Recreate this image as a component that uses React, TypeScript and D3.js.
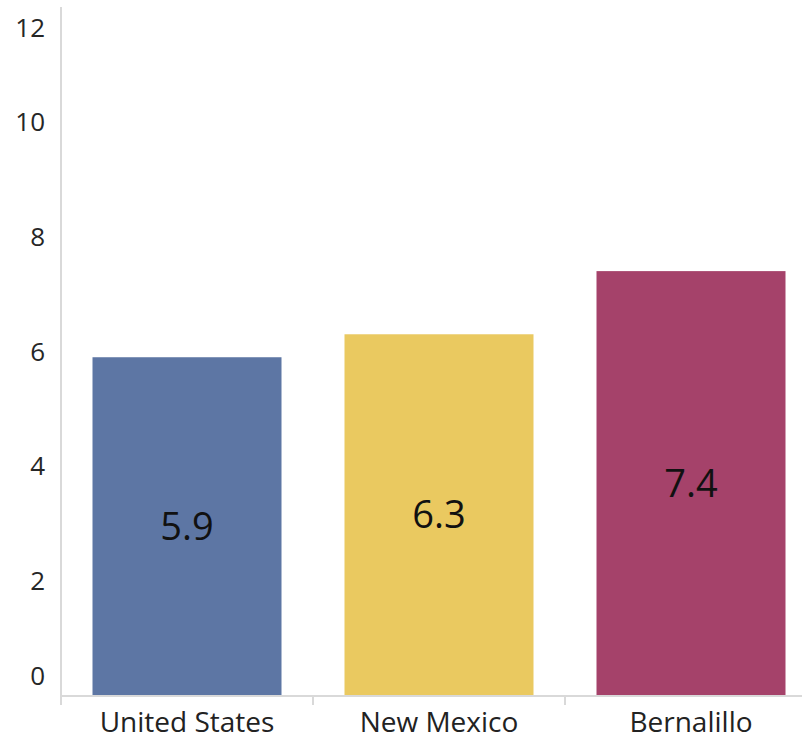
import React, { useEffect, useRef } from 'react';
import * as d3 from 'd3';

const categories: string[] = ['United States', 'New Mexico', 'Bernalillo'];
const values: number[] = [5.9, 6.3, 7.4];
const barColors: string[] = ['#5D76A4', '#EAC960', '#A5426A'];
const yTicks: number[] = [0, 2, 4, 6, 8, 10, 12];

const BarChart: React.FC = () => {
  const svgRef = useRef<SVGSVGElement | null>(null);

  useEffect(() => {
    const width = 802;
    const height = 741;
    const font = '"Open Sans", sans-serif';

    const svg = d3.select(svgRef.current);
    svg.selectAll('*').remove();
    svg.attr('width', width).attr('height', height);

    const xScale = d3.scaleBand<string>().domain(categories).range([61, 817]).paddingInner(0.25).paddingOuter(0.125);
    const yScale = d3.scaleLinear().domain([0, 12]).range([696, 7]);

    // bars
    svg
      .selectAll('rect.bar')
      .data(values)
      .enter()
      .append('rect')
      .attr('class', 'bar')
      .attr('x', (_, i) => xScale(categories[i])!)
      .attr('y', (d) => yScale(d))
      .attr('width', xScale.bandwidth())
      .attr('height', (d) => yScale(0) - yScale(d))
      .attr('fill', (_, i) => barColors[i]);

    // value labels in the middle of each bar
    svg
      .selectAll('text.value')
      .data(values)
      .enter()
      .append('text')
      .attr('class', 'value')
      .attr('x', (_, i) => xScale(categories[i])! + xScale.bandwidth() / 2)
      .attr('y', (d) => (yScale(d) + yScale(0)) / 2)
      .attr('dy', '0.35em')
      .attr('text-anchor', 'middle')
      .style('font-family', font)
      .style('font-size', '38px')
      .attr('fill', '#111')
      .text((d) => d.toFixed(1));

    // y axis line
    svg
      .append('line')
      .attr('x1', 61)
      .attr('x2', 61)
      .attr('y1', yScale(12))
      .attr('y2', yScale(0))
      .attr('stroke', '#D9D9D9')
      .attr('stroke-width', 2);

    // y tick labels (end labels pulled inward like the original)
    svg
      .selectAll('text.ytick')
      .data(yTicks)
      .enter()
      .append('text')
      .attr('class', 'ytick')
      .attr('x', 45)
      .attr('y', (d) => yScale(d) + (d === 0 ? -20 : d === 12 ? 21 : 0))
      .attr('dy', '0.35em')
      .attr('text-anchor', 'end')
      .style('font-family', font)
      .style('font-size', '26px')
      .attr('fill', '#262626')
      .text((d) => d);

    // x axis line
    svg
      .append('line')
      .attr('x1', 61)
      .attr('x2', width)
      .attr('y1', yScale(0))
      .attr('y2', yScale(0))
      .attr('stroke', '#D9D9D9')
      .attr('stroke-width', 2);

    // x ticks at band boundaries
    svg
      .selectAll('line.xtick')
      .data(categories)
      .enter()
      .append('line')
      .attr('class', 'xtick')
      .attr('x1', (d) => xScale(d)! - (xScale.step() - xScale.bandwidth()) / 2)
      .attr('x2', (d) => xScale(d)! - (xScale.step() - xScale.bandwidth()) / 2)
      .attr('y1', yScale(0))
      .attr('y2', yScale(0) + 9)
      .attr('stroke', '#D9D9D9')
      .attr('stroke-width', 2);

    // category labels
    svg
      .selectAll('text.cat')
      .data(categories)
      .enter()
      .append('text')
      .attr('class', 'cat')
      .attr('x', (d) => xScale(d)! + xScale.bandwidth() / 2)
      .attr('y', 732)
      .attr('text-anchor', 'middle')
      .style('font-family', font)
      .style('font-size', '28px')
      .attr('fill', '#222')
      .text((d) => d);
  }, []);

  return (
    <div style={{ position: 'absolute', left: 0, top: 0 }}>
      <svg ref={svgRef} style={{ display: 'block', background: '#fff' }}></svg>
    </div>
  );
};

export default function App() {
  return <BarChart />;
}
